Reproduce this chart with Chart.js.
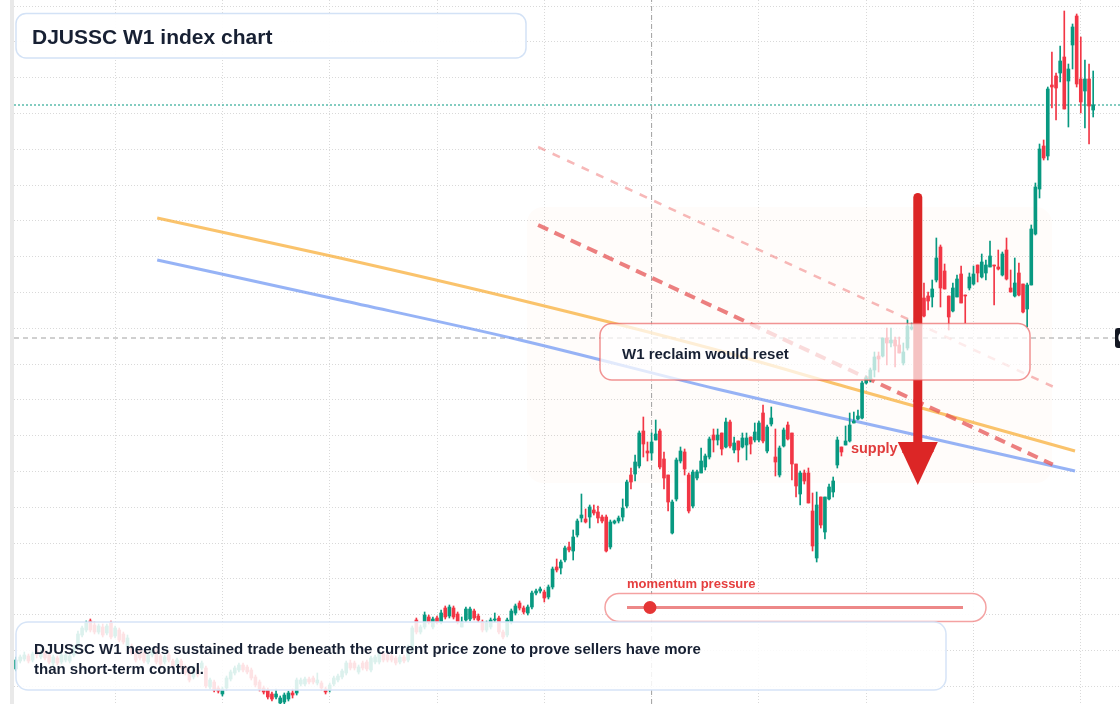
<!DOCTYPE html>
<html><head><meta charset="utf-8">
<script src="https://cdn.jsdelivr.net/npm/chart.js@4.4.1/dist/chart.umd.min.js"></script>
<style>html,body{margin:0;padding:0;background:#fff;}canvas{display:block;}</style>
</head><body>
<canvas id="c" width="1120" height="704"></canvas>
<script>
// Weekly OHLC values (index points), one entry per week, oldest first
const opens = [
331,339,341,344,340,350,343,348,345,337,
342,338,340,339,345,353,365,370,379,375,
368,373,367,377,364,370,366,354,353,348,
350,347,338,345,348,344,338,345,339,335,
339,333,328,323,330,332,332,313,318,312,
306,312,321,327,330,335,333,330,323,318,
312,310,306,303,297,298,301,307,307,316,
316,321,322,317,317,311,310,316,320,323,
327,337,337,328,337,338,330,338,338,347,
345,344,342,338,343,340,350,380,368,373,
383,373,382,378,392,384,392,386,373,380,
381,389,384,378,370,373,380,382,368,365,
378,387,397,392,387,393,407,409,408,403,
413,433,432,440,453,449,465,482,481,483,
490,488,483,483,453,477,479,483,494,525,
526,534,569,549,547,560,569,541,525,467,
501,539,548,525,494,522,527,533,543,565,
560,567,553,578,550,559,553,555,563,560,
560,587,549,576,543,525,554,575,567,536,
506,527,527,489,442,503,468,501,508,535,
553,555,559,577,581,582,617,620,630,644,
644,662,657,660,655,637,652,671,672,682,
702,704,703,720,753,729,704,689,703,726,
705,712,716,735,723,727,733,735,733,725,
750,712,704,727,716,691,715,766,811,854,
844,915,924,927,943,919,955,984,921,909,
921,890];
const highs = [
343,345,348,346,348,352,350,350,347,345,
344,347,347,346,355,369,374,379,381,378,
376,376,376,379,374,372,368,365,356,350,
352,349,347,352,351,346,345,347,341,342,
341,335,330,334,332,339,334,322,320,314,
313,324,330,334,337,337,335,332,325,320,
314,312,308,311,304,307,309,311,322,322,
323,323,324,327,319,313,317,324,326,331,
339,340,339,335,339,340,344,345,350,349,
347,346,344,345,345,355,374,382,375,388,
385,383,384,390,394,395,394,388,383,393,
393,391,386,380,379,382,387,384,370,382,
391,396,399,394,395,409,411,413,410,415,
433,441,440,454,458,470,481,506,491,495,
495,494,485,485,480,480,484,501,520,532,
545,569,583,558,567,580,571,548,525,500,
542,553,551,527,530,530,552,546,563,571,
571,567,582,580,563,559,567,567,563,577,
579,595,575,593,571,554,572,578,567,536,
529,530,532,507,508,503,503,516,523,563,
553,574,587,588,590,619,624,632,648,648,
662,672,672,663,663,657,680,677,686,702,
717,708,720,762,755,736,704,717,725,734,
705,727,734,735,746,740,759,735,750,748,
762,730,742,737,716,717,775,817,856,860,
913,948,927,954,989,936,976,986,963,940,
936,929];
const lows = [
329,337,339,337,338,342,341,340,336,334,
335,336,338,337,343,352,363,368,368,366,
366,363,365,361,362,358,356,352,345,338,
340,337,336,343,336,334,336,338,331,333,
331,325,318,321,323,330,312,311,308,307,
304,310,319,325,328,328,326,320,313,309,
306,301,299,301,295,296,299,302,305,314,
314,316,316,315,310,306,308,314,318,321,
325,330,330,326,330,329,328,336,336,338,
338,338,335,336,337,338,348,366,366,371,
376,371,376,376,381,382,381,376,373,378,
379,380,378,368,368,371,378,366,361,363,
376,385,390,386,385,391,405,407,398,401,
411,428,426,438,448,440,463,478,477,472,
485,477,477,448,451,476,477,479,492,511,
519,532,543,539,540,560,531,511,489,466,
499,537,525,487,492,520,527,530,541,548,
555,545,552,552,547,538,552,540,546,558,
558,557,547,574,524,523,553,560,520,503,
495,516,497,449,438,472,461,500,503,532,
544,555,558,577,580,581,616,618,623,628,
643,635,653,633,647,635,650,670,668,680,
683,690,693,718,693,711,670,688,703,697,
677,710,715,718,722,720,733,695,730,724,
720,708,703,704,687,673,715,765,802,840,
840,892,880,918,891,873,931,913,887,872,
856,883];
const closes = [
340,343,345,339,346,345,347,342,338,343,
337,345,345,344,353,366,372,377,370,368,
374,365,374,363,372,360,358,362,347,340,
342,339,345,350,338,336,343,340,333,340,
333,327,320,332,325,337,314,320,310,309,
311,322,328,332,335,330,328,322,315,311,
308,303,301,306,302,305,307,305,320,320,
321,318,318,320,312,308,315,322,324,329,
337,332,332,333,332,331,342,343,348,340,
340,340,337,343,339,353,372,368,373,385,
378,381,378,387,383,393,383,378,378,391,
391,382,380,370,377,380,381,368,363,380,
389,394,392,388,393,407,409,411,402,413,
431,430,438,452,450,463,479,485,478,493,
487,482,479,449,478,479,482,492,518,518,
538,567,556,547,558,566,533,522,498,498,
540,549,531,489,528,528,539,544,561,560,
565,551,578,554,557,550,562,562,556,568,
577,559,573,582,538,552,570,561,536,514,
527,519,497,454,495,475,503,513,519,560,
548,559,575,579,584,617,622,630,643,641,
662,657,660,654,647,648,674,673,682,700,
684,699,711,742,712,711,683,712,721,697,
704,723,726,727,738,735,744,734,731,746,
721,708,717,705,688,715,771,813,851,842,
911,913,912,939,891,931,973,916,898,921,
894,895];

// Grid (tick) positions: half-year week marks and price levels
const gridWeeks = [24, 50, 76, 102, 128, 154, 180, 206, 232, 258];
const gridPrices = [994, 958.2, 922.4, 886.6, 850.8, 815, 779.2, 743.4, 707.6, 671.8,
                    636, 600.2, 564.4, 528.6, 492.8, 457, 421.2, 385.4, 349.6, 313.8];

// Smoothed averages (week index, value)
const avgWeeks   = [34.2, 78.5, 122.1, 169.8, 202.1, 256.6];
const fastAvg    = [782, 742, 700, 650, 612, 549];
const slowAvg    = [740, 700, 660, 611, 580, 529];

// Descending trend lines (week index, value)
const trendWeeks = [126.5, 251.2];
const upperTrend = [853, 613.5];
const lowerTrend = [775, 535.5];

// Crosshair and zone
const crossWeek = 154;
const crossPrice = 662;
const zoneWeeks = [123.8, 251.0];
const zonePrices = [793, 517];
const arrowWeek = 218.5;
const arrowPrices = [807, 515];
const zoneLabelAt = [202.3, 547];

const xMin = -0.5, xMax = 267.5, yMin = 296, yMax = 1000;
const UP = '#089981', DOWN = '#f23645';
const idx = closes.map((_, i) => i);
const colors = idx.map(i => closes[i] >= opens[i] ? UP : DOWN);
const lastClose = closes[closes.length - 1];
const pts = (xs, ys) => xs.map((x, i) => ({x, y: ys[i]}));

function rr(ctx, x, y, w, h, r) {
  ctx.beginPath();
  ctx.moveTo(x + r, y);
  ctx.arcTo(x + w, y, x + w, y + h, r);
  ctx.arcTo(x + w, y + h, x, y + h, r);
  ctx.arcTo(x, y + h, x, y, r);
  ctx.arcTo(x, y, x + w, y, r);
  ctx.closePath();
}
const FONT = '"Liberation Sans", Arial, sans-serif';
const INK = '#172033';

const overlay = {
  id: 'overlay',
  beforeDraw(chart) {
    const ctx = chart.ctx;
    ctx.save();
    ctx.fillStyle = '#ffffff';
    ctx.fillRect(0, 0, chart.width, chart.height);
    ctx.fillStyle = '#e9e9e9';
    ctx.fillRect(10, 0, 4, chart.height);
    ctx.restore();
  },
  beforeDatasetsDraw(chart) {
    const ctx = chart.ctx, xs = chart.scales.x, ys = chart.scales.y;
    const x1 = xs.getPixelForValue(zoneWeeks[0]), x2 = xs.getPixelForValue(zoneWeeks[1]);
    const y1 = ys.getPixelForValue(zonePrices[0]), y2 = ys.getPixelForValue(zonePrices[1]);
    ctx.save();
    rr(ctx, x1, y1, x2 - x1, y2 - y1, 16);
    ctx.fillStyle = 'rgba(249,140,60,0.022)';
    ctx.fill();
    ctx.restore();
  },
  afterDatasetsDraw(chart) {
    const ctx = chart.ctx, xs = chart.scales.x, ys = chart.scales.y;
    ctx.save();
    // supply zone label
    ctx.font = 'bold 14.5px ' + FONT;
    ctx.fillStyle = '#e03c3c';
    ctx.textBaseline = 'alphabetic';
    ctx.fillText('supply zone', xs.getPixelForValue(zoneLabelAt[0]), ys.getPixelForValue(zoneLabelAt[1]));
    // arrow
    const ax = xs.getPixelForValue(arrowWeek);
    const aTop = ys.getPixelForValue(arrowPrices[0]);
    const aTip = ys.getPixelForValue(arrowPrices[1]);
    ctx.strokeStyle = '#dc2626';
    ctx.lineWidth = 9;
    ctx.lineCap = 'round';
    ctx.beginPath();
    ctx.moveTo(ax, aTop + 4.5);
    ctx.lineTo(ax, aTip - 38);
    ctx.stroke();
    ctx.fillStyle = '#dc2626';
    ctx.beginPath();
    ctx.moveTo(ax - 20, aTip - 43);
    ctx.lineTo(ax + 20, aTip - 43);
    ctx.lineTo(ax, aTip);
    ctx.closePath();
    ctx.fill();
    // W1 box
    rr(ctx, 600, 323.5, 430, 56.5, 12);
    ctx.fillStyle = 'rgba(255,255,255,0.72)';
    ctx.fill();
    ctx.lineWidth = 1.5;
    ctx.strokeStyle = 'rgba(233,90,90,0.65)';
    ctx.stroke();
    ctx.font = 'bold 15px ' + FONT;
    ctx.fillStyle = INK;
    ctx.fillText('W1 reclaim would reset', 622, 359);
    // momentum pressure
    ctx.font = 'bold 13px ' + FONT;
    ctx.fillStyle = '#e53e3e';
    ctx.fillText('momentum pressure', 627, 587.5);
    rr(ctx, 605, 593.5, 381, 28, 14);
    ctx.fillStyle = 'rgba(255,255,255,0.9)';
    ctx.fill();
    ctx.lineWidth = 1.5;
    ctx.strokeStyle = 'rgba(236,100,100,0.6)';
    ctx.stroke();
    ctx.lineCap = 'butt';
    ctx.lineWidth = 3;
    ctx.strokeStyle = 'rgba(230,90,90,0.72)';
    ctx.beginPath();
    ctx.moveTo(627, 607.5);
    ctx.lineTo(963, 607.5);
    ctx.stroke();
    ctx.fillStyle = '#e53535';
    ctx.beginPath();
    ctx.arc(650, 607.5, 6.5, 0, Math.PI * 2);
    ctx.fill();
    // title box
    rr(ctx, 16, 13.5, 510, 44.5, 10);
    ctx.fillStyle = 'rgba(255,255,255,0.93)';
    ctx.fill();
    ctx.lineWidth = 1.5;
    ctx.strokeStyle = '#d3e2f6';
    ctx.stroke();
    ctx.font = 'bold 21px ' + FONT;
    ctx.fillStyle = INK;
    ctx.fillText('DJUSSC W1 index chart', 32, 43.5);
    // bottom note box
    rr(ctx, 16, 622, 930, 68, 12);
    ctx.fillStyle = 'rgba(255,255,255,0.86)';
    ctx.fill();
    ctx.lineWidth = 1.5;
    ctx.strokeStyle = '#d6e4f7';
    ctx.stroke();
    ctx.font = 'bold 15px ' + FONT;
    ctx.fillStyle = INK;
    ctx.fillText('DJUSSC W1 needs sustained trade beneath the current price zone to prove sellers have more', 34, 654);
    ctx.fillText('than short-term control.', 34, 673.5);
    // right price label (cut off by the edge)
    const py = ys.getPixelForValue(crossPrice);
    rr(ctx, 1115, py - 10, 60, 20, 3);
    ctx.fillStyle = '#131722';
    ctx.fill();
    ctx.font = 'bold 12px ' + FONT;
    ctx.fillStyle = '#ffffff';
    ctx.fillText(crossPrice.toFixed(2), 1118, py + 4);
    ctx.restore();
  }
};

const gridOpts = {color: '#d9d9d9', lineWidth: 1, drawTicks: false, offset: false};

new Chart(document.getElementById('c'), {
  type: 'bar',
  data: {
    datasets: [
      {type: 'bar', label: 'body', data: idx.map(i => ({x: i, y: [opens[i], closes[i]]})),
       backgroundColor: colors, barThickness: 3, minBarLength: 1, grouped: false, order: 0},
      {type: 'bar', label: 'wick', data: idx.map(i => ({x: i, y: [lows[i], highs[i]]})),
       backgroundColor: colors, barThickness: 1, grouped: false, order: 1},
      {type: 'line', label: 'upper trend', data: pts(trendWeeks, upperTrend),
       borderColor: 'rgba(240,125,125,0.55)', borderWidth: 2.5, borderDash: [8, 8], pointRadius: 0, order: 2},
      {type: 'line', label: 'lower trend', data: pts(trendWeeks, lowerTrend),
       borderColor: 'rgba(229,85,85,0.75)', borderWidth: 4, borderDash: [11, 7], pointRadius: 0, order: 2},
      {type: 'line', label: 'fast avg', data: pts(avgWeeks, fastAvg), cubicInterpolationMode: 'monotone',
       borderColor: 'rgba(249,178,66,0.78)', borderWidth: 3, pointRadius: 0, order: 3},
      {type: 'line', label: 'slow avg', data: pts(avgWeeks, slowAvg), cubicInterpolationMode: 'monotone',
       borderColor: 'rgba(110,150,242,0.72)', borderWidth: 3, pointRadius: 0, order: 3},
      {type: 'line', label: 'cross h', data: [{x: xMin, y: crossPrice}, {x: 266.3, y: crossPrice}],
       borderColor: '#a0a0a0', borderWidth: 1, borderDash: [5, 4], pointRadius: 0, order: 4},
      {type: 'line', label: 'cross v', data: [{x: crossWeek, y: yMin}, {x: crossWeek, y: yMax}],
       borderColor: '#a0a0a0', borderWidth: 1, borderDash: [5, 4], pointRadius: 0, order: 4},
      {type: 'line', label: 'last', data: [{x: xMin, y: lastClose}, {x: xMax, y: lastClose}],
       borderColor: '#089981', borderWidth: 1, borderDash: [2, 2], pointRadius: 0, order: 4}
    ]
  },
  options: {
    responsive: false, animation: false,
    layout: {padding: {left: 14, right: 0, top: 0, bottom: 0}},
    plugins: {legend: {display: false}, tooltip: {enabled: false}},
    scales: {
      x: {type: 'linear', min: xMin, max: xMax, offset: false, grid: gridOpts,
          border: {display: false, dash: [1, 2]}, ticks: {display: false},
          afterBuildTicks: a => { a.ticks = gridWeeks.map(v => ({value: v})); }},
      y: {type: 'linear', min: yMin, max: yMax, beginAtZero: false, grid: gridOpts,
          border: {display: false, dash: [1, 2]}, ticks: {display: false},
          afterBuildTicks: a => { a.ticks = gridPrices.map(v => ({value: v})); }}
    }
  },
  plugins: [overlay]
});
</script>
</body></html>
